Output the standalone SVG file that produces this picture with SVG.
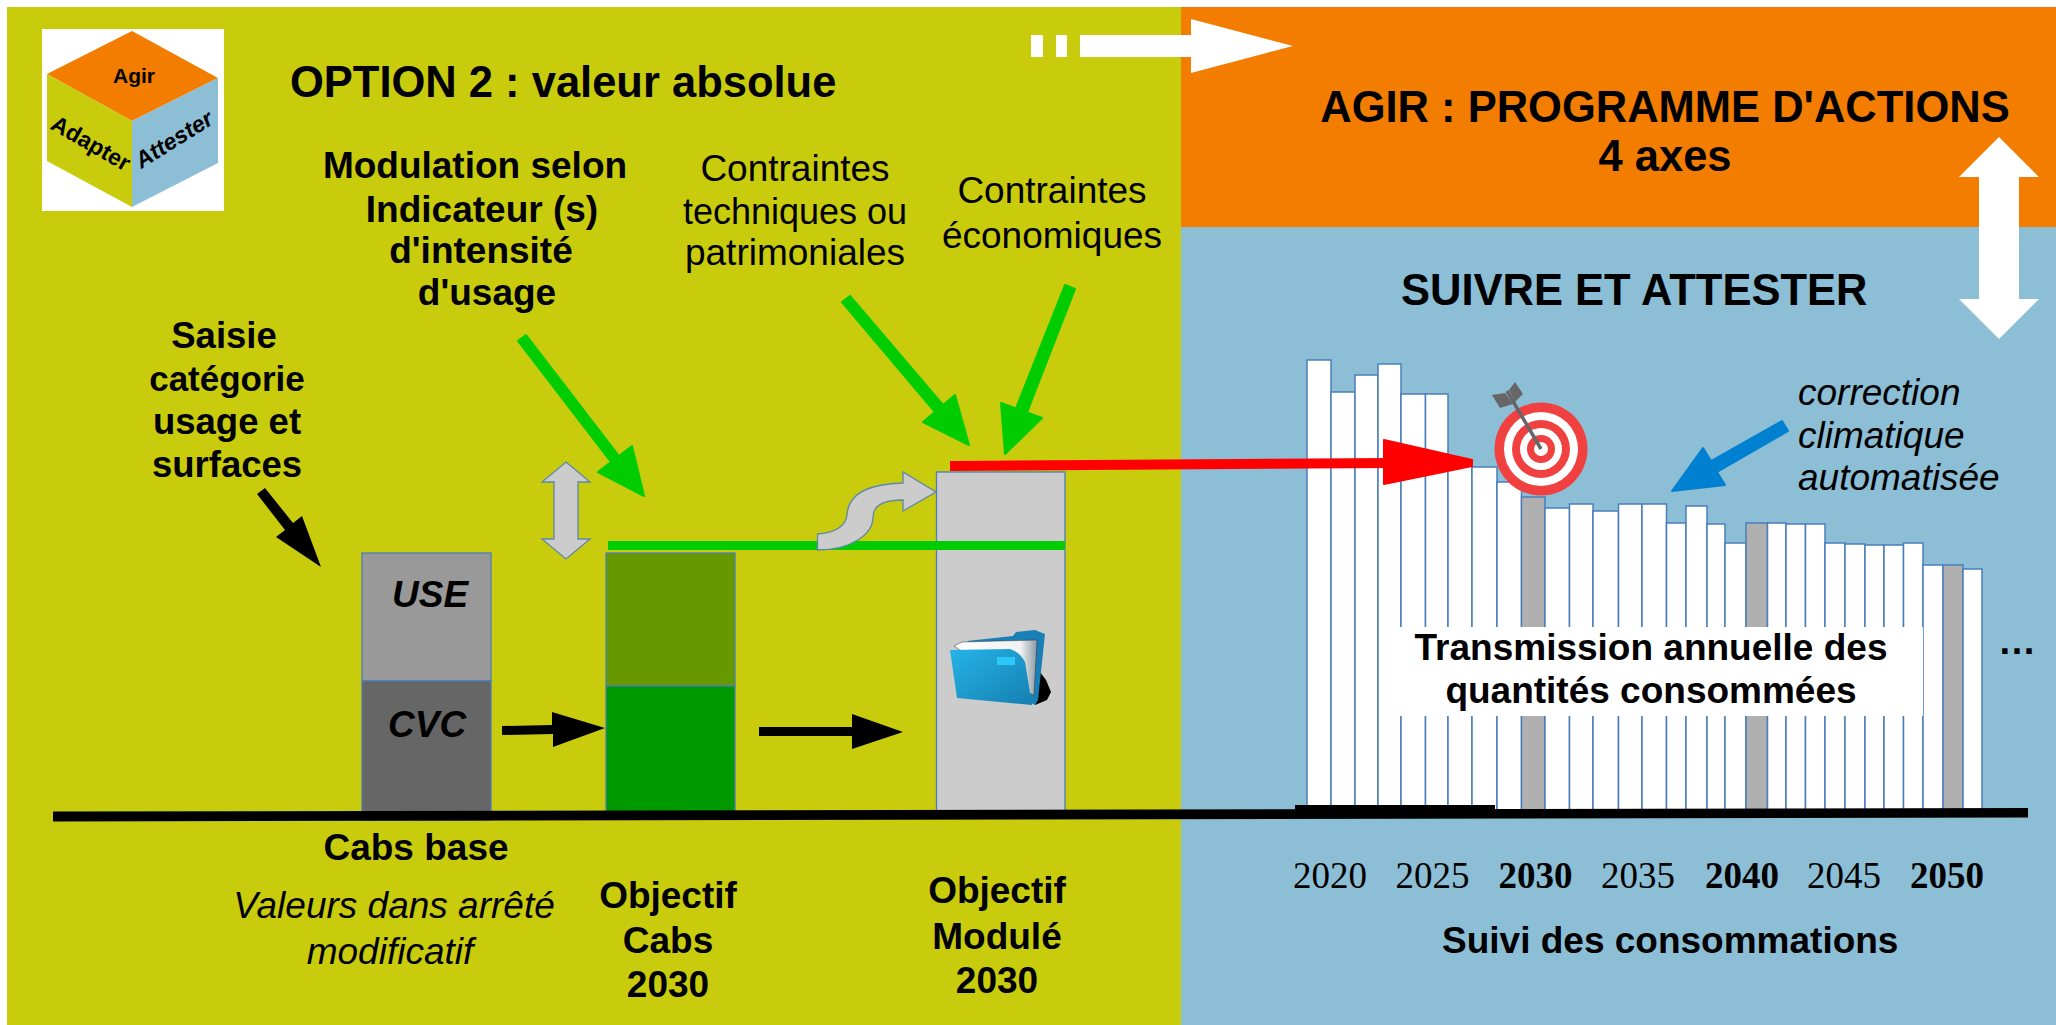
<svg xmlns="http://www.w3.org/2000/svg" width="2056" height="1025" viewBox="0 0 2056 1025" font-family="'Liberation Sans',Arial,sans-serif">
<defs>
<style>
.b{font-weight:bold}
.i{font-style:italic}
.m{text-anchor:middle}
.t37{font-size:37px}
.h{font-size:43.500px;font-weight:bold}
.y{font-family:"Liberation Serif","Times New Roman",serif;font-size:37px}
.bar{fill:#fff;stroke:#4a7ebb;stroke-width:1.500}
.gbar{fill:#b0b0b0;stroke:#4a7ebb;stroke-width:1.500}
.col{stroke:#4a7ebb;stroke-width:1.300}
.grey{fill:#ccc;stroke:#5f86ad;stroke-width:1.300}
.ga{fill:#0c0;stroke:#0c0;stroke-width:2;stroke-linejoin:round}
.ka{fill:#000}
</style>
<linearGradient id="fold" x1="0" y1="0" x2="1" y2="1"><stop offset="0" stop-color="#25b4e8"/><stop offset="1" stop-color="#167fb0"/></linearGradient>
<linearGradient id="page" x1="0" y1="0" x2="1" y2="0"><stop offset="0" stop-color="#fff"/><stop offset="0.8" stop-color="#f2f2f2"/><stop offset="1" stop-color="#8a9aa5"/></linearGradient>
</defs>

<g id="background">
<rect width="2056" height="1025" fill="#fff"/>
<rect x="7" y="7" width="1174" height="1018" fill="#c8cc0c"/>
<rect x="1181" y="7" width="875" height="220" fill="#f27d00"/>
<rect x="1181" y="227" width="875" height="798" fill="#8cbed6"/>
</g>

<g id="logo-cube">
<rect x="42" y="29" width="182" height="182" fill="#fff"/>
<polygon points="132,31 218,78 132,121 47,74" fill="#f27d00"/>
<polygon points="47,74 132,121 132,207 47,161" fill="#c8cc0c"/>
<polygon points="218,78 132,121 132,207 218,163" fill="#8cbed6"/>
<text class="b m" x="134" y="83" font-size="21">Agir</text>
<text class="b m" transform="translate(87,150) rotate(30)" font-size="23">Adapter</text>
<text class="b i m" transform="translate(178,146) rotate(-32)" font-size="23">Attester</text>
</g>

<g id="bars">
<rect class="bar" x="1307" y="360" width="24" height="450"/>
<rect class="bar" x="1331" y="392" width="24" height="418"/>
<rect class="bar" x="1355" y="375" width="23" height="435"/>
<rect class="bar" x="1378" y="364" width="23" height="446"/>
<rect class="bar" x="1401" y="394" width="24.500" height="416"/>
<rect class="bar" x="1425.500" y="394" width="22.500" height="416"/>
<rect class="bar" x="1448" y="460" width="24" height="350"/>
<rect class="bar" x="1472" y="467" width="25" height="343"/>
<rect class="bar" x="1497" y="482" width="24.500" height="328"/>
<rect class="gbar" x="1521.500" y="497" width="23.500" height="313"/>
<rect class="bar" x="1545" y="508" width="24.500" height="302"/>
<rect class="bar" x="1569.500" y="504" width="23.500" height="306"/>
<rect class="bar" x="1593" y="511" width="25.500" height="299"/>
<rect class="bar" x="1618.500" y="504" width="23.500" height="306"/>
<rect class="bar" x="1642" y="504" width="24.500" height="306"/>
<rect class="bar" x="1666.500" y="523" width="19.500" height="287"/>
<rect class="bar" x="1686" y="506" width="21" height="304"/>
<rect class="bar" x="1707" y="524" width="18" height="286"/>
<rect class="bar" x="1725" y="543" width="21" height="267"/>
<rect class="gbar" x="1746" y="523" width="21.500" height="287"/>
<rect class="bar" x="1767.500" y="523" width="18.500" height="287"/>
<rect class="bar" x="1786" y="524" width="19.500" height="286"/>
<rect class="bar" x="1805.500" y="524" width="19.500" height="286"/>
<rect class="bar" x="1825" y="543" width="20" height="267"/>
<rect class="bar" x="1845" y="544" width="20" height="266"/>
<rect class="bar" x="1865" y="545" width="19" height="265"/>
<rect class="bar" x="1884" y="545" width="19.500" height="265"/>
<rect class="bar" x="1903.500" y="543" width="19.500" height="267"/>
<rect class="bar" x="1923" y="565" width="20" height="245"/>
<rect class="gbar" x="1943" y="565" width="20" height="245"/>
<rect class="bar" x="1963" y="569" width="19" height="241"/>
</g>

<g id="label-transmission">
<rect x="1380" y="627" width="543" height="89" fill="#fff"/>
<text class="b m t37" x="1651" y="660">Transmission annuelle des</text>
<text class="b m t37" x="1651" y="703">quantités consommées</text>
</g>
<text id="ellipsis" class="b" x="1998" y="654" font-size="38">…</text>

<g id="col-base">
<rect class="col" x="362" y="553" width="129" height="128" fill="#999"/>
<rect class="col" x="362" y="681" width="129" height="139" fill="#666"/>
<text class="b i" x="392" y="607" font-size="37">USE</text>
<text class="b i" x="388" y="737" font-size="37">CVC</text>
</g>
<g id="col-cabs">
<rect class="col" x="606" y="553" width="129" height="133" fill="#690"/>
<rect class="col" x="606" y="686" width="129" height="126" fill="#090"/>
</g>
<g id="col-module">
<rect class="col" x="936.500" y="472" width="128.500" height="340" fill="#ccc"/>
</g>

<g id="folder-icon">
<path d="M1040,672 L1046,680 L1051,692 L1047,700 L1035,705 Z" fill="#000"/>
<path d="M967,641 L1013,636 L1016,632 L1035,630 L1045,634 L1038,700 L1035,705 L1025,700 Z" fill="#1a7fb5"/>
<path d="M954,646 L962,642 L1037,640 L1034,695 L1020,690 Z" fill="url(#page)" stroke="#333" stroke-width=".5"/>
<path d="M950,650 L1010,649 Q1020,652 1025,662 L1032,705 L957,698 Z" fill="url(#fold)"/>
<rect x="997" y="657" width="18" height="8" fill="#2bc8f8"/>
</g>

<g id="connectors">
<polygon class="ka" points="53,811.500 2028,808 2028,817.500 53,821.500"/>
<polygon class="ka" points="1295,805 1495,805 1495,817 1295,817"/>
<polygon points="608,541 1065,541 1065,550 608,550" fill="#0c0"/>
<polygon points="950,461 1390,458 1390,468 950,471" fill="#f00"/>
<path d="M1384,440 L1472,460 L1472,466 L1384,484 Z" fill="#f00" stroke="#f00" stroke-width="2" stroke-linejoin="round"/>
<polygon points="1031,35 1043,35 1043,57 1031,57" fill="#fff"/>
<polygon points="1056,35 1067,35 1067,57 1056,57" fill="#fff"/>
<polygon points="1080,35 1191,35 1191,19 1293,46 1191,73 1191,57 1080,57" fill="#fff"/>
<polygon points="1999,137 2039,177 2019,177 2019,299 2039,299 1999,339 1959,299 1979,299 1979,177 1959,177" fill="#fff"/>
<polygon class="grey" points="566,462 590,482 578,482 578,539 590,539 566,559 542,539 554,539 554,482 542,482"/>
<path class="grey" d="M817.500,534 C835,533 846,526 847,515 C848,495 865,484 903,483 L903,472 L936,492 L903,511 L903,500 C885,500 873,505 873,517 C873,535 850,550 817.500,550 Z"/>
<polygon class="ka" points="502,726 552,725 552,712 605,728 553,747 553,734 502,735"/>
<polygon class="ka" points="759,727 852,727 852,714 903,732 852,749 852,736 759,736"/>
<polygon class="ka" points="265,488 293,523 302,516 321,567 276,537 285,530 257,494"/>
<polygon class="ga" points="526,335 619,456 632,446 644,496 598,472 611,462 518,341"/>
<polygon class="ga" points="850,296 943,405 955,395 969,445 923,422 935,412 842,302"/>
<polygon class="ga" points="1075,289 1027,412.500 1042,418 1005,454 1001,403 1016,408.500 1065,285"/>
<polygon points="1788,431 1717,472 1725,485 1672,491 1703,448 1711,461 1782,421" fill="#0080d0" stroke="#0080d0" stroke-width="2" stroke-linejoin="round"/>
</g>

<g id="target-icon">
<circle cx="1541" cy="449" r="46.500" fill="#f04040"/>
<circle cx="1541" cy="449" r="37" fill="#fff"/>
<circle cx="1541" cy="449" r="29" fill="#f04040"/>
<circle cx="1541" cy="449" r="21" fill="#fff"/>
<circle cx="1541" cy="449" r="14" fill="#f04040"/>
<circle cx="1541" cy="449" r="7" fill="#fff"/>
<line x1="1507" y1="391" x2="1541" y2="449" stroke="#666" stroke-width="3.500"/>
<polygon points="1492,395 1505,393 1513,404 1500,408" fill="#666"/>
<polygon points="1509,390 1515,382 1523,394 1515,402" fill="#666"/>
</g>

<g id="labels">
<text class="h" x="290" y="97">OPTION 2 : valeur absolue</text>
<g class="b m t37">
<text x="475" y="178">Modulation selon</text>
<text x="482" y="222">Indicateur (s)</text>
<text x="481" y="263">d'intensité</text>
<text x="487" y="305">d'usage</text>
</g>
<g class="m t37">
<text x="795" y="181">Contraintes</text>
<text x="795" y="224" font-size="36">techniques ou</text>
<text x="795" y="265">patrimoniales</text>
<text x="1052" y="203">Contraintes</text>
<text x="1052" y="248">économiques</text>
</g>
<g class="b m" font-size="36.500">
<text x="224" y="348">Saisie</text>
<text x="227" y="391" font-size="35">catégorie</text>
<text x="227" y="434">usage et</text>
<text x="227" y="477">surfaces</text>
</g>
<g class="b m t37">
<text x="416" y="860">Cabs base</text>
<text x="668" y="908">Objectif</text>
<text x="668" y="953">Cabs</text>
<text x="668" y="997">2030</text>
<text x="997" y="903">Objectif</text>
<text x="997" y="949">Modulé</text>
<text x="997" y="993">2030</text>
</g>
<g class="i m t37">
<text x="394" y="918">Valeurs dans arrêté</text>
<text x="390" y="964">modificatif</text>
</g>
<text class="h m" x="1665" y="122">AGIR : PROGRAMME D'ACTIONS</text>
<text class="h m" x="1665" y="171">4 axes</text>
<text class="h" x="1401" y="305">SUIVRE ET ATTESTER</text>
<g class="i t37">
<text x="1798" y="405">correction</text>
<text x="1798" y="448">climatique</text>
<text x="1798" y="490">automatisée</text>
</g>
<g class="y">
<text x="1293" y="888">2020</text>
<text x="1395.500" y="888">2025</text>
<text class="b" x="1498.500" y="888">2030</text>
<text x="1601" y="888">2035</text>
<text class="b" x="1705" y="888">2040</text>
<text x="1807" y="888">2045</text>
<text class="b" x="1910" y="888">2050</text>
</g>
<text class="b t37" x="1442" y="953">Suivi des consommations</text>
</g>
</svg>
